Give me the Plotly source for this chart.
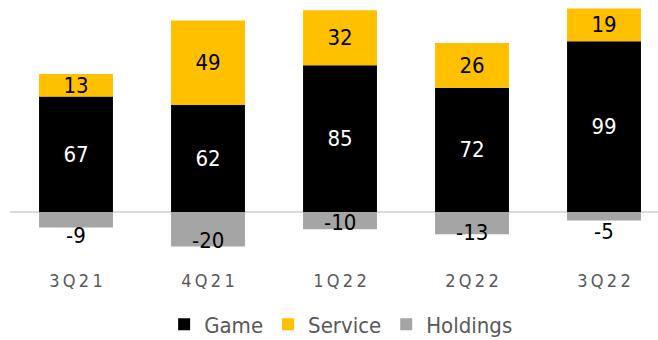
import plotly.graph_objects as go

categories = ["3Q21", "4Q21", "1Q22", "2Q22", "3Q22"]
game = [67, 62, 85, 72, 99]
service = [13, 49, 32, 26, 19]
holdings = [-9, -20, -10, -13, -5]
# per-label vertical nudge (px) for holdings labels, as in the original
holdings_label_shift = [-8, 6, 7, 2, -11]

FONT = "DejaVu Sans Condensed"
spaced = ["\u2009".join(list(c)) for c in categories]

fig = go.Figure()
fig.add_trace(go.Bar(x=categories, y=game, name="Game", marker_color="#000000",
                     marker_line_width=0, width=0.56,
                     text=game, textposition="inside", insidetextanchor="middle",
                     constraintext="none",
                     textfont=dict(color="#FFFFFF", size=22, family=FONT),
                     textangle=0, cliponaxis=False))
fig.add_trace(go.Bar(x=categories, y=service, name="Service", marker_color="#FFC000",
                     marker_line_width=0, width=0.56,
                     text=service, textposition="inside", insidetextanchor="middle",
                     constraintext="none",
                     textfont=dict(color="#000000", size=22, family=FONT),
                     textangle=0, cliponaxis=False))
fig.add_trace(go.Bar(x=categories, y=holdings, name="Holdings", marker_color="#A5A5A5",
                     marker_line_width=0, width=0.56, textposition="none"))

for c, v, s in zip(categories, holdings, holdings_label_shift):
    fig.add_annotation(x=c, y=v, xref="x", yref="y", text=str(v), showarrow=False,
                       yanchor="middle", yshift=s,
                       font=dict(color="#000000", size=22, family=FONT))

fig.update_layout(
    width=658, height=340,
    barmode="relative",
    margin=dict(l=10, r=0, t=0, b=72, autoexpand=False),
    plot_bgcolor="white", paper_bgcolor="white",
    font=dict(family=FONT, color="#595959"),
    showlegend=True,
    legend=dict(orientation="h", x=0.511, xanchor="center",
                yref="container", y=0.046, yanchor="middle",
                font=dict(size=22, color="#595959", family=FONT),
                itemwidth=30, traceorder="normal"),
    xaxis=dict(range=[-0.5, 4.409], tickmode="array", tickvals=categories, ticktext=spaced,
               tickfont=dict(size=18, color="#595959", family=FONT), showline=False,
               showgrid=False, ticks="", automargin=False),
    yaxis=dict(range=[-32.5, 122.9], showticklabels=False, showgrid=False, automargin=False,
               zeroline=True, zerolinecolor="#D9D9D9", zerolinewidth=2, showline=False),
)

fig.write_html("out.html")
